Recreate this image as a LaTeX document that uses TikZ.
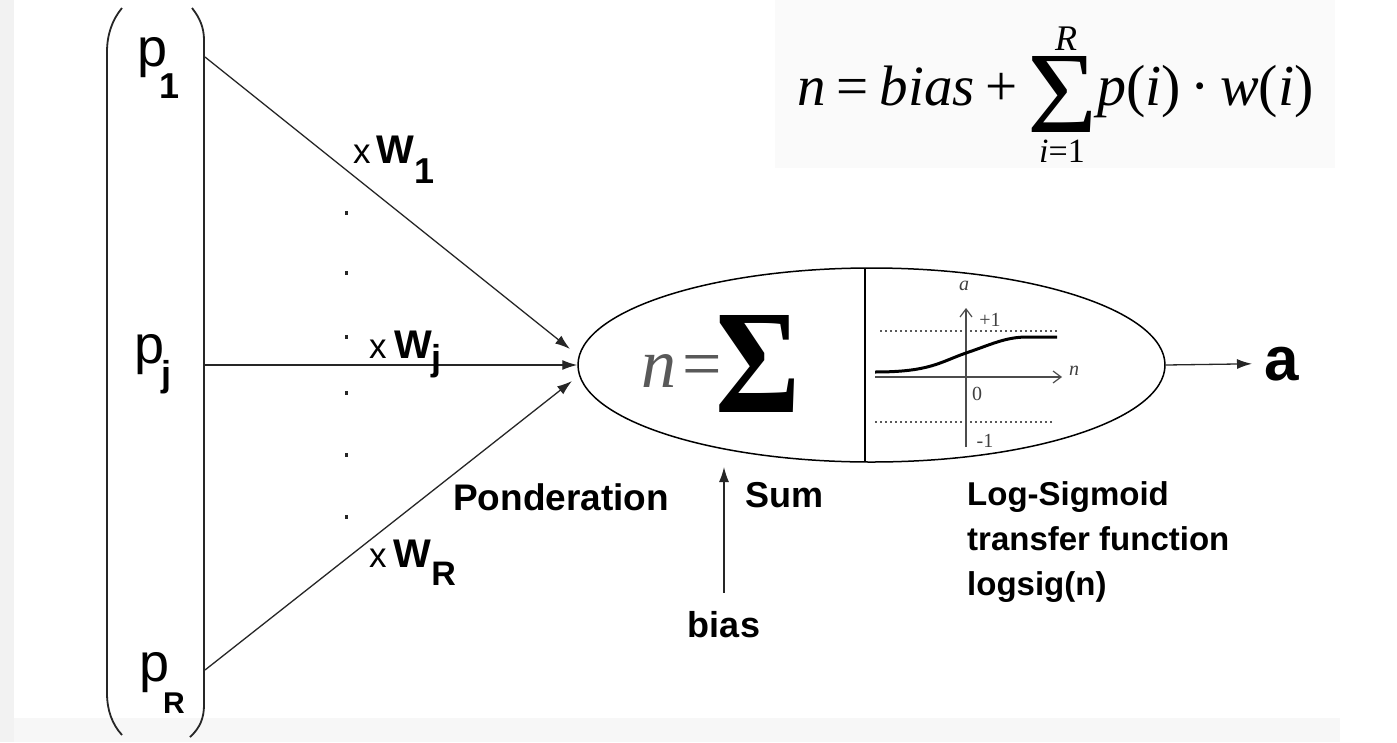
\documentclass[tikz,border=0pt]{standalone}
\usepackage{fontspec}
\setmainfont{Liberation Serif}
\newfontfamily\arialf{Liberation Sans}
\usetikzlibrary{arrows.meta,shapes.geometric}
\newcommand{\fsz}[1]{\fontsize{#1}{#1}\selectfont}
\begin{document}
\begin{tikzpicture}[x=1pt,y=-1pt,
  bracketline/.style={line width=1.8pt, black!85},
  conn/.style={line width=1.3pt, black!85, -{Latex[length=15pt,width=10pt]}},
  plabel/.style={inner sep=0pt, anchor=base west, font=\arialf\fsz{54}},
  wlabel/.style={inner sep=0pt, anchor=base west},
  boldlbl/.style={inner sep=0pt, anchor=base west, font=\arialf\bfseries\fsz{36}},
  rightlbl/.style={inner sep=0pt, anchor=base west, font=\arialf\bfseries\fsz{33}},
  small/.style={inner sep=0pt, font=\fsz{20}, black!75},
  axis/.style={line width=1.2pt, black!70, -{Straight Barb[length=8pt,width=12pt]}},
  dotline/.style={line width=1.3pt, black!65, dash pattern=on 2pt off 3pt},
  dotmark/.style={fill=black!85},
  fnode/.style={inner sep=0pt, anchor=base west}
]
\useasboundingbox (0,0) rectangle (1397,742);
% background
\fill[white] (0,0) rectangle (1397,742);
\fill[black!5] (0,0) rectangle (14,742);
\fill[black!3] (14,718) rectangle (1340,742);
\fill[black!2] (775,0) rectangle (1335,168);

% input bracket
\draw[bracketline] (122,8) .. controls (112,20) and (107,35) .. (107,52) -- (107,693) .. controls (107,710) and (112,724) .. (122,735);
\draw[bracketline] (192,8) .. controls (200,18) and (204,28) .. (204,40) -- (204,705) .. controls (204,718) and (200,728) .. (190,737);

% inputs
\node[plabel] (p1) at (137,66) {p\kern-8pt\raisebox{-32pt}{\bfseries\fsz{36}1}};
\node[plabel] (pj) at (134,363) {p\kern-3pt\raisebox{-23pt}{\bfseries\fsz{36}j}};
\node[plabel] (pR) at (139,681) {p\kern-6pt\raisebox{-32pt}{\bfseries\fsz{30}R}};

\coordinate (b1) at (205,57);
\coordinate (bj) at (205,365);
\coordinate (bR) at (205,670);

% neuron body
\node[ellipse, draw, line width=1.5pt, minimum width=587pt, minimum height=194pt, inner sep=0pt] (neuron) at (871.5,365) {};
\draw[line width=2pt] (865,268) -- (865,462);

\coordinate (t1) at (570,349);
\coordinate (tR) at (572,381);
\draw[conn] (b1) -- (t1);
\draw[conn] (bj) -- (neuron.west);
\draw[conn] (bR) -- (tR);

% dots
\foreach \yy in {213,273,337,393,455,517}
  \fill[dotmark] (344.5,\yy-1.8) rectangle (348,\yy+1.8);

% weights
\node[wlabel] (w1) at (353,163) {{\arialf\fsz{35}x}\kern6pt{\arialf\bfseries\fsz{40}W}\kern0pt\raisebox{-20pt}{\arialf\bfseries\fsz{36}1}};
\node[wlabel] (wj) at (369,358) {{\arialf\fsz{35}x}\kern8pt{\arialf\bfseries\fsz{40}W}\kern-1pt\raisebox{-12pt}{\arialf\bfseries\fsz{36}j}};
\node[wlabel] (wR) at (369,567) {{\arialf\fsz{35}x}\kern7pt{\arialf\bfseries\fsz{40}W}\kern0pt\raisebox{-18pt}{\arialf\bfseries\fsz{34}R}};

\node[boldlbl, font=\arialf\bfseries\fsz{37}] (pond) at (453,510) {Ponderation};
\node[boldlbl] (sum) at (745,507) {Sum};

% sum inside
\node[fnode, font=\itshape\fsz{70}, text=black!65] (nn) at (641,387) {n};
\node[fnode, font=\fsz{70}, text=black!65] (eq) at (682,387) {=};
\node[fnode] (sig) at (715,412) {\resizebox{85pt}{97pt}{\bfseries Σ}};

% sigmoid plot
\draw[dotline] (880,331) -- (1057,331);
\draw[dotline] (875,422) -- (1053,422);
\draw[axis] (966,447) -- (966,308);
\draw[axis] (875,377) -- (1062,377);
\draw[line width=3pt] (875,372) .. controls (930,372) and (940,362) .. (966,353) .. controls (990,345) and (1005,337) .. (1027,337) -- (1057,337);
\node[small, font=\itshape\fsz{20}] (la) at (964,286) {a};
\node[small] (lp1) at (990,320) {+1};
\node[small] (l0) at (977,394) {0};
\node[small] (lm1) at (985,441) {-1};
\node[small, font=\itshape\fsz{20}] (ln) at (1074,371) {n};

% bias
\node[inner sep=0pt, anchor=base, font=\arialf\bfseries\fsz{36}] (biasl) at (724,637) {bias};
\coordinate (bt) at (724,467);
\draw[conn, shorten <=18pt] (biasl.north) -- (bt);

% transfer function label
\node[rightlbl] (ls1) at (967,505) {Log-Sigmoid};
\node[rightlbl] (ls2) at (967,550) {transfer function};
\node[rightlbl] (ls3) at (967,595) {logsig(n)};

% output
\node[inner sep=0pt, anchor=base west, font=\arialf\bfseries\fsz{62}] (aout) at (1264,380) {a};
\draw[conn, shorten >=12pt] (neuron.east) -- (aout.west);

% formula
\node[fnode, font=\fsz{57}] (f1) at (797,105) {\textit{n}\kern11pt=\kern11pt\textit{bias}\kern11pt+};
\node[fnode] (fsum) at (1027,132) {\resizebox{70pt}{76pt}{Σ}};
\node[inner sep=0pt, anchor=base, font=\itshape\fsz{36}, text depth=0pt] (fR) at (1066,50) {R};
\node[inner sep=0pt, anchor=base, font=\fsz{34}, text height=24pt] (fi) at (1062,162) {\textit{i}=1};
\node[fnode, font=\fsz{58}] (f2) at (1097,105) {\textit{p}(\textit{i})\kern10pt·\kern10pt\textit{w}(\textit{i})};
\end{tikzpicture}
\end{document}
